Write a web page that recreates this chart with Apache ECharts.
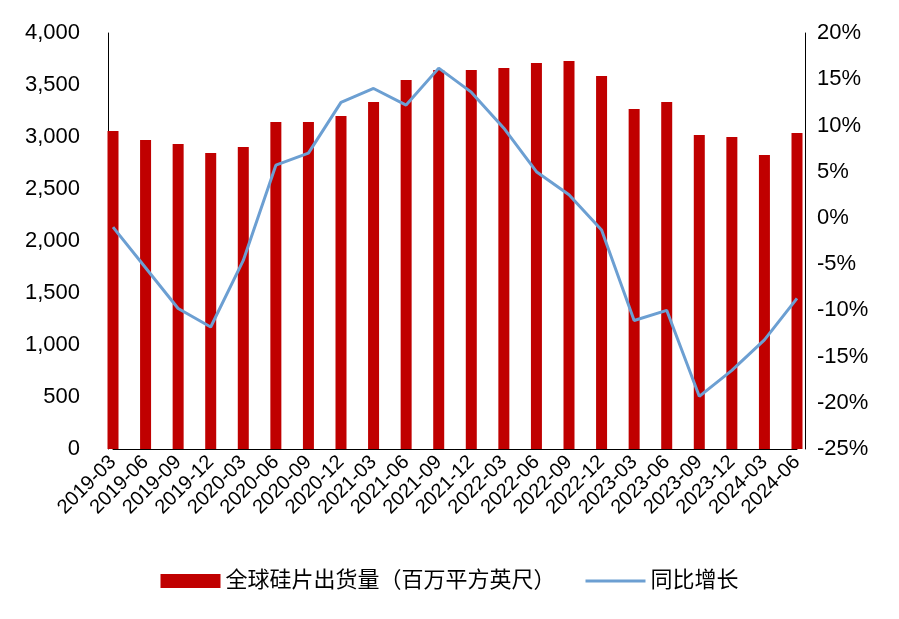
<!DOCTYPE html>
<html><head><meta charset="utf-8">
<script src="https://cdn.jsdelivr.net/npm/echarts@6/dist/echarts.min.js"></script>
<style>html,body{margin:0;background:#fff}#main{width:899px;height:619px}</style>
</head><body><div id="main"></div>
<script>
var categories = ['2019-03','2019-06','2019-09','2019-12','2020-03','2020-06','2020-09','2020-12','2021-03','2021-06','2021-09','2021-12','2022-03','2022-06','2022-09','2022-12','2023-03','2023-06','2023-09','2023-12','2024-03','2024-06'];
var shipments = [3058,2971,2933,2846,2904,3144,3144,3202,3337,3548,3644,3644,3663,3712,3731,3587,3269,3337,3019,3000,2827,3038];
var yoy = [-1.0,-5.4,-9.8,-11.8,-4.6,5.7,7.0,12.5,14.0,12.2,16.2,13.6,9.7,5.0,2.5,-1.3,-11.1,-10.0,-19.3,-16.5,-13.2,-8.7];

var font = 'Liberation Sans, Arial, Noto Sans CJK SC';
var chart = echarts.init(document.getElementById('main'));
var axisLine = {show: true, lineStyle: {color: '#000', width: 1}};
chart.setOption({
    textStyle: {fontFamily: font},
    grid: {left: 113, right: 102, top: 33, bottom: 170},
    legend: {
        bottom: 22, left: 'center', itemGap: 30, itemWidth: 60, itemHeight: 14,
        textStyle: {fontSize: 22, color: '#000', fontFamily: font},
        data: [
            {name: '全球硅片出货量（百万平方英尺）', icon: 'rect'},
            {name: '同比增长', icon: 'path://M0,0H60V3H0Z'}
        ]
    },
    xAxis: {
        type: 'category', data: categories, boundaryGap: false,
        axisLine: axisLine, axisTick: {show: false},
        axisLabel: {rotate: 45, fontSize: 20, color: '#000', interval: 0, margin: 10}
    },
    yAxis: [
        {type: 'value', min: 0, max: 4000, interval: 500, splitLine: {show: false}, offset: 5,
         axisLine: axisLine, axisTick: {show: false},
         axisLabel: {fontSize: 22, color: '#000', margin: 28,
             formatter: function (v) { return v.toLocaleString('en-US'); }}},
        {type: 'value', min: -25, max: 20, interval: 5, splitLine: {show: false}, offset: 8,
         axisLine: axisLine, axisTick: {show: false},
         axisLabel: {fontSize: 22, color: '#000', margin: 12, formatter: '{value}%'}}
    ],
    series: [
        {name: '全球硅片出货量（百万平方英尺）', type: 'bar', data: shipments, barWidth: 11,
         itemStyle: {color: '#C00000'}},
        {name: '同比增长', type: 'line', yAxisIndex: 1, data: yoy, symbol: 'none',
         lineStyle: {color: '#6C9FD2', width: 3}, itemStyle: {color: '#6C9FD2'}}
    ]
});
</script>
</body></html>
